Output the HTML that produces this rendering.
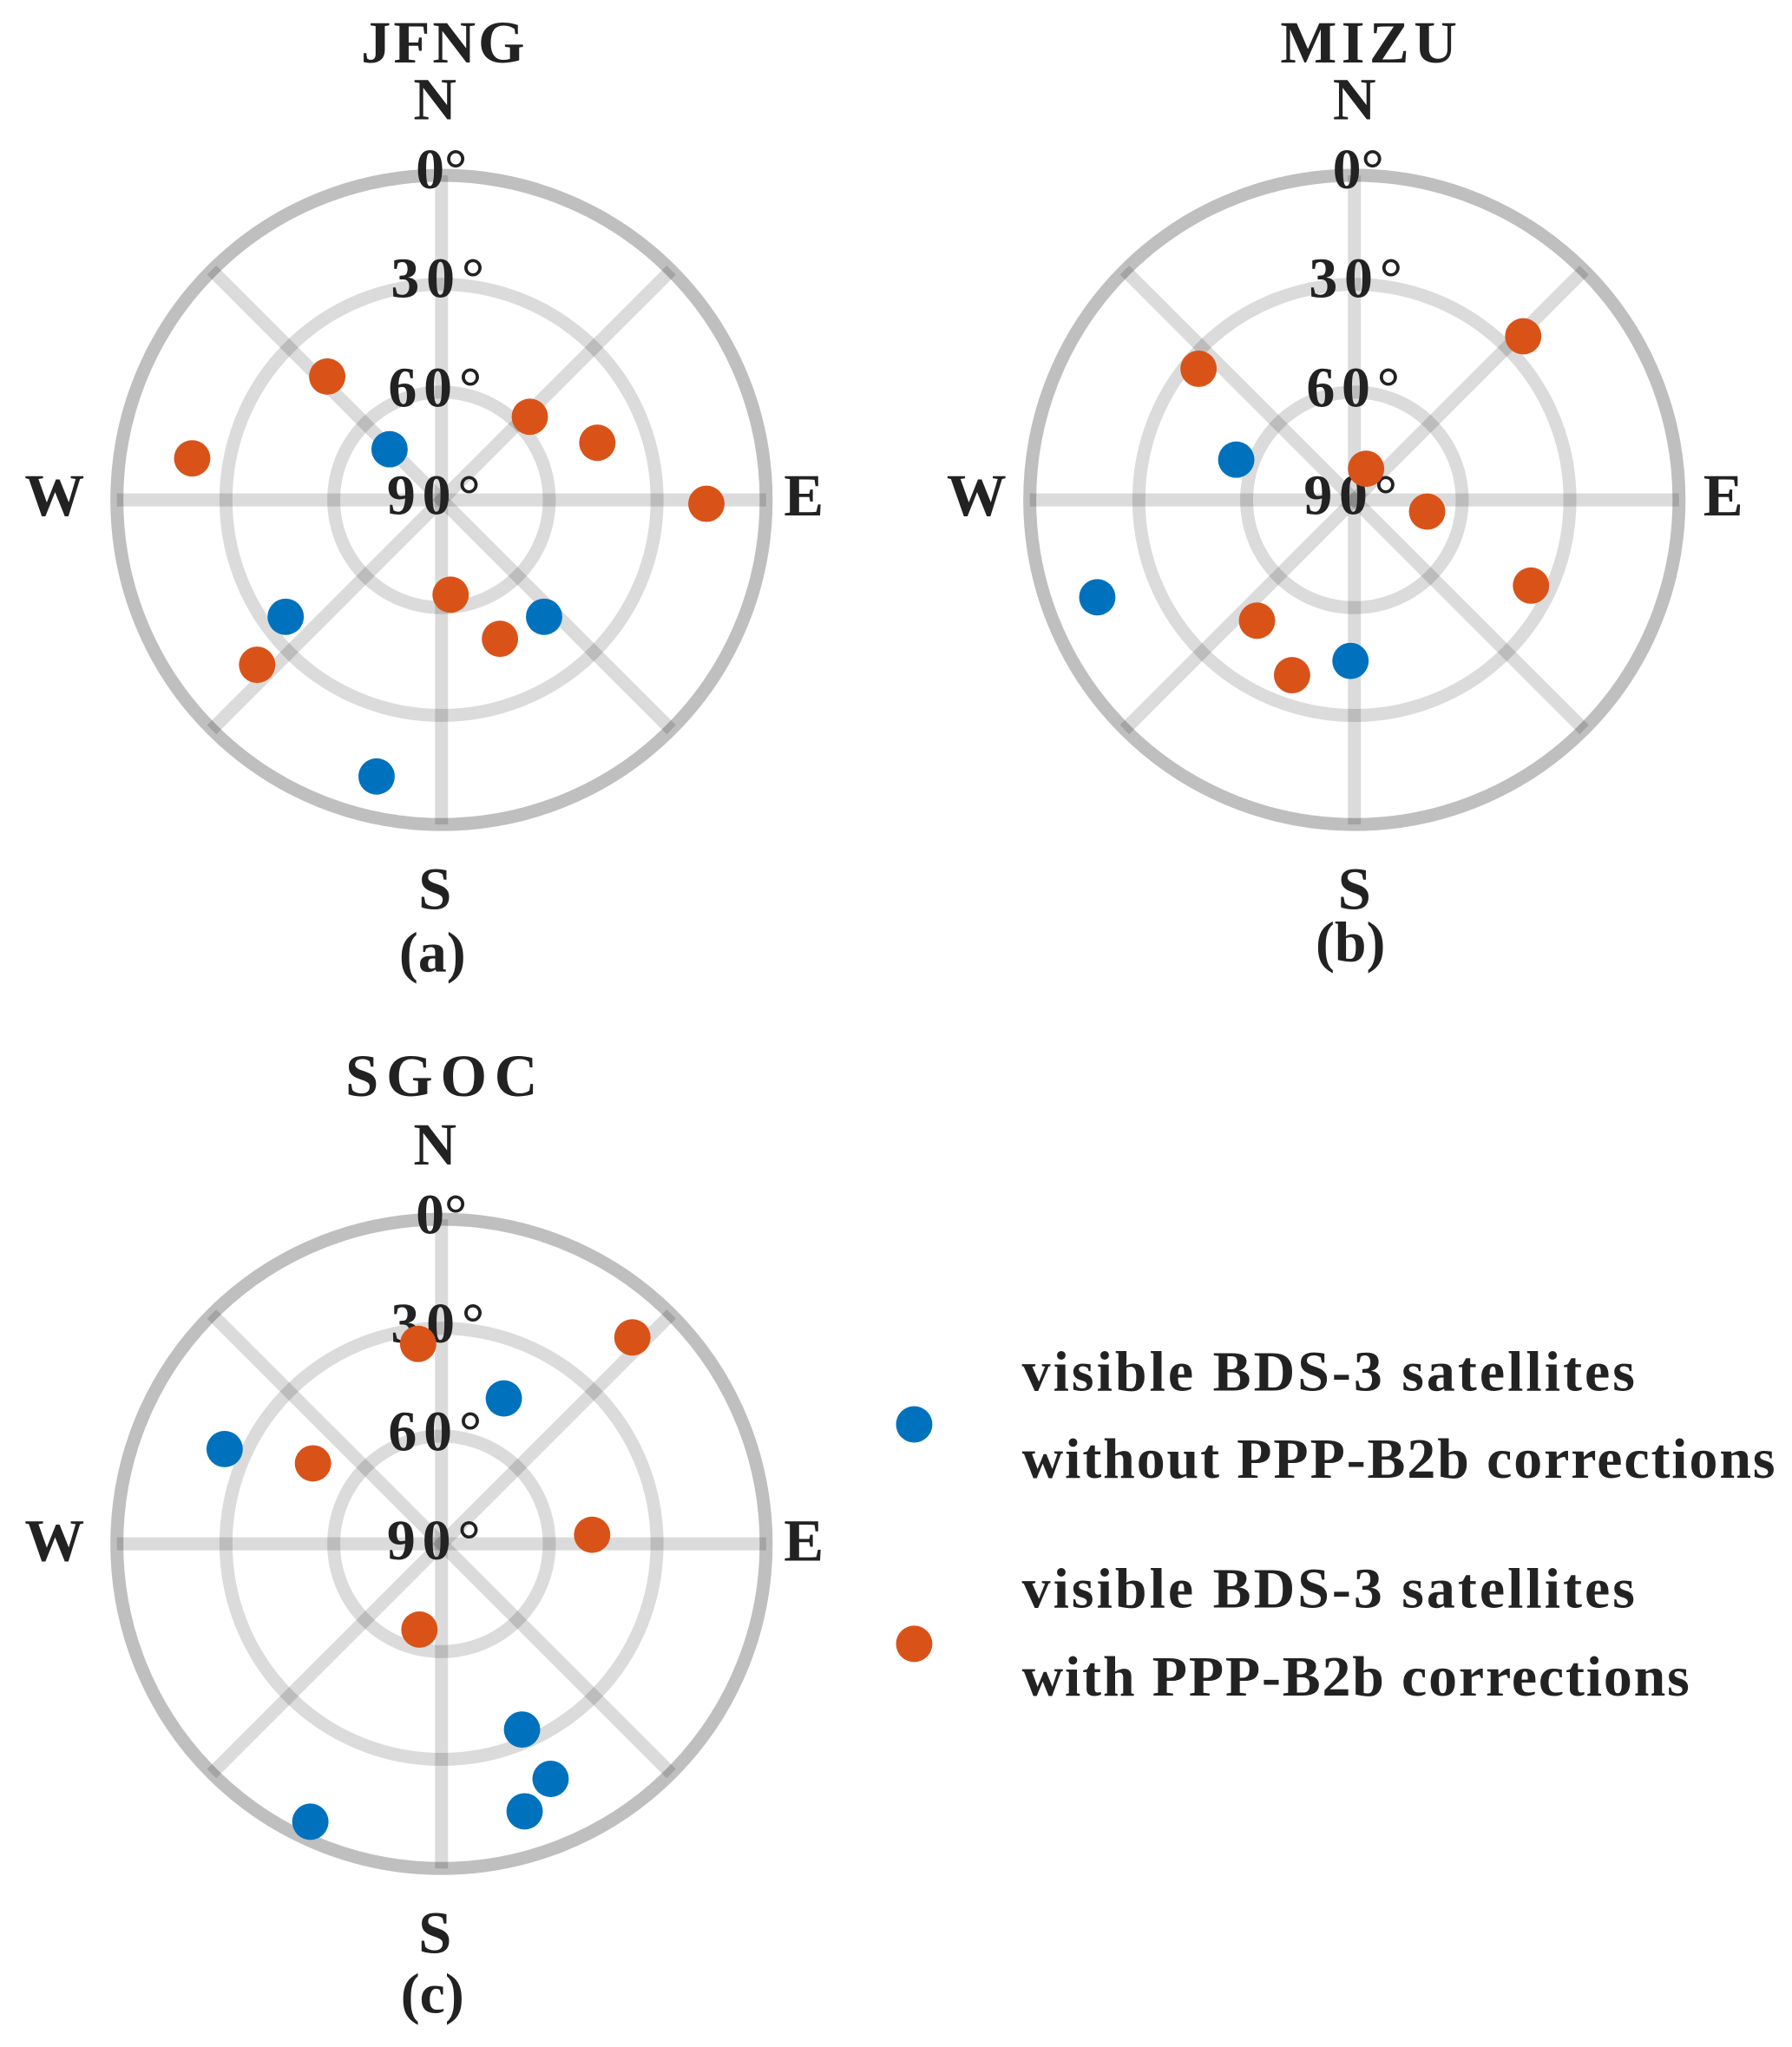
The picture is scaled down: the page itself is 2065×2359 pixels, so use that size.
<!DOCTYPE html>
<html><head><meta charset="utf-8"><style>html,body{margin:0;padding:0;background:#fff}svg{display:block}</style></head>
<body>
<svg width="2065" height="2359" viewBox="0 0 1380 1576.5" preserveAspectRatio="none" xmlns="http://www.w3.org/2000/svg">
<defs>
<g id="grid">
  <g stroke="rgba(0,0,0,0.14)" stroke-width="10" fill="none">
    <circle cx="0" cy="0" r="83"/>
    <circle cx="0" cy="0" r="166"/>
    <line x1="-250" y1="0" x2="250" y2="0"/>
    <line x1="0" y1="-250" x2="0" y2="250"/>
    <line x1="-177" y1="-177" x2="177" y2="177"/>
    <line x1="-177" y1="177" x2="177" y2="-177"/>
  </g>
  <circle cx="0" cy="0" r="250" stroke="rgba(0,0,0,0.25)" stroke-width="10" fill="none"/>
</g>
</defs>
<g font-family="'Liberation Serif', serif" font-weight="bold" fill="#222" text-anchor="middle">
<!-- panel a -->
<use href="#grid" x="340" y="385"/>
<text x="341" y="48" font-size="46" textLength="126">JFNG</text>
<text x="335" y="92" font-size="46">N</text>
<text x="340" y="145" font-size="44">0°</text>
<text x="337" y="229" font-size="44" textLength="72">30°</text>
<text x="335" y="313" font-size="44" textLength="72">60°</text>
<text x="334" y="396" font-size="44" textLength="72">90°</text>
<text x="42" y="397" font-size="46">W</text>
<text x="619" y="397" font-size="46">E</text>
<text x="335" y="700" font-size="46">S</text>
<text x="333" y="748" font-size="44">(a)</text>
<!-- panel b -->
<use href="#grid" x="1043" y="385"/>
<text x="1054" y="48" font-size="46" textLength="136">MIZU</text>
<text x="1043" y="92" font-size="46">N</text>
<text x="1046" y="145" font-size="44">0°</text>
<text x="1044" y="229" font-size="44" textLength="72">30°</text>
<text x="1042" y="313" font-size="44" textLength="72">60°</text>
<text x="1040" y="396" font-size="44" textLength="72">90°</text>
<text x="752" y="397" font-size="46">W</text>
<text x="1327" y="397" font-size="46">E</text>
<text x="1043" y="700" font-size="46">S</text>
<text x="1040" y="740" font-size="44">(b)</text>
<!-- panel c -->
<use href="#grid" x="340" y="1189"/>
<text x="340" y="844" font-size="46" textLength="148">SGOC</text>
<text x="335" y="897" font-size="46">N</text>
<text x="340" y="950" font-size="44">0°</text>
<text x="337" y="1034" font-size="44" textLength="72">30°</text>
<text x="335" y="1117" font-size="44" textLength="72">60°</text>
<text x="334" y="1201" font-size="44" textLength="72">90°</text>
<text x="42" y="1202" font-size="46">W</text>
<text x="619" y="1202" font-size="46">E</text>
<text x="335" y="1504" font-size="46">S</text>
<text x="333" y="1550" font-size="44">(c)</text>
<!-- legend -->
<g text-anchor="start" font-size="44">
<text x="787" y="1071" textLength="472">visible BDS-3 satellites</text>
<text x="787" y="1138" textLength="580">without PPP-B2b corrections</text>
<text x="787" y="1238" textLength="472">visible BDS-3 satellites</text>
<text x="787" y="1306" textLength="514">with PPP-B2b corrections</text>
</g>
</g>
<g fill="#D95319">
<circle cx="252" cy="290" r="14"/><circle cx="148" cy="353" r="14"/><circle cx="408" cy="321" r="14"/><circle cx="460" cy="341" r="14"/><circle cx="544" cy="388" r="14"/><circle cx="347" cy="458" r="14"/><circle cx="385" cy="492" r="14"/><circle cx="198" cy="512" r="14"/>
<circle cx="923" cy="284" r="14"/><circle cx="1173" cy="259" r="14"/><circle cx="1052" cy="361" r="14"/><circle cx="1099" cy="394" r="14"/><circle cx="1179" cy="451" r="14"/><circle cx="968" cy="478" r="14"/><circle cx="995" cy="520" r="14"/>
<circle cx="322" cy="1035" r="14"/><circle cx="487" cy="1030" r="14"/><circle cx="241" cy="1127" r="14"/><circle cx="456" cy="1182" r="14"/><circle cx="323" cy="1255" r="14"/>
<circle cx="704" cy="1266" r="14"/>
</g>
<g fill="#0072BD">
<circle cx="300" cy="346" r="14"/><circle cx="220" cy="475" r="14"/><circle cx="419" cy="475" r="14"/><circle cx="290" cy="598" r="14"/>
<circle cx="952" cy="354" r="14"/><circle cx="845" cy="460" r="14"/><circle cx="1040" cy="509" r="14"/>
<circle cx="388" cy="1077" r="14"/><circle cx="173" cy="1116" r="14"/><circle cx="402" cy="1332" r="14"/><circle cx="424" cy="1370" r="14"/><circle cx="404" cy="1395" r="14"/><circle cx="239" cy="1403" r="14"/>
<circle cx="704" cy="1097" r="14"/>
</g>
</svg>
</body></html>
